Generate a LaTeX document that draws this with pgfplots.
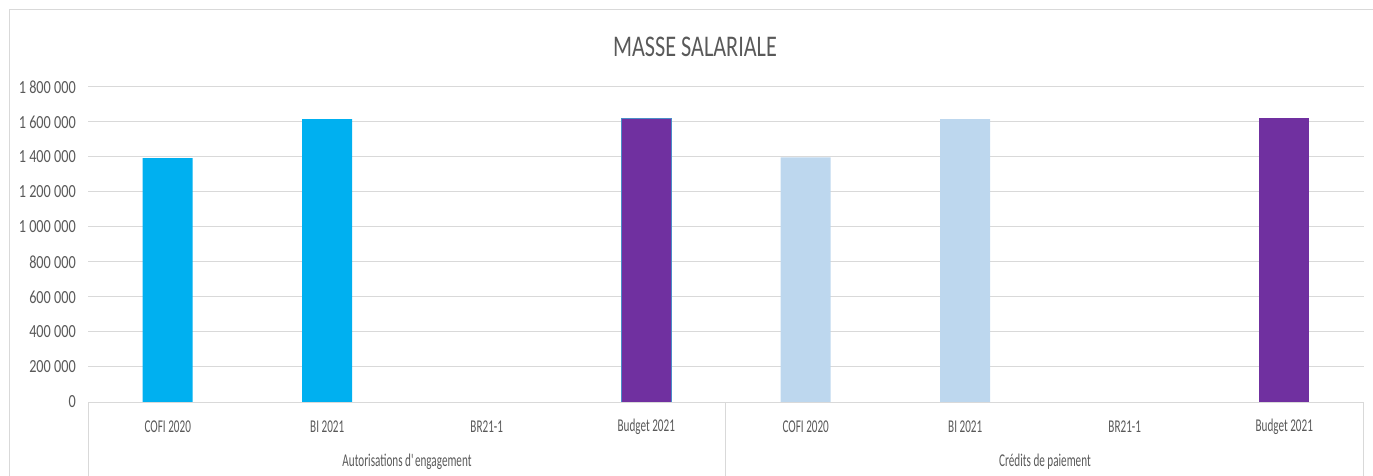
\documentclass[border=0pt]{standalone}
\usepackage{pgfplots}
\pgfplotsset{compat=1.18}
\usepackage{fontspec}
\setmainfont{Carlito}
\newfontfamily\titlef[FakeStretch=0.74]{Carlito}
\newfontfamily\yf[FakeStretch=0.77]{Carlito}
\newfontfamily\xf[FakeStretch=0.62]{Carlito}
\definecolor{txt}{HTML}{595959}
\definecolor{gridc}{HTML}{D9D9D9}
\definecolor{c1}{HTML}{00B0F0}
\definecolor{c2}{HTML}{BDD7EE}
\definecolor{c3}{HTML}{7030A0}
\definecolor{edge}{HTML}{4A8CC8}
\begin{document}
\begin{tikzpicture}
\path[use as bounding box] (0,0) rectangle (1373bp,476bp);
\draw[gridc, line width=1bp] (9bp,0) -- (9bp,466bp) -- (1373bp,466bp);
\node[txt, font=\titlef\fontsize{30bp}{34bp}\selectfont] at (695bp,429bp) {MASSE SALARIALE};
\begin{axis}[
  at={(88bp,74bp)}, anchor=south west, scale only axis,
  width=1276bp, height=315bp,
  xmin=-0.5, xmax=7.5, ymin=0, ymax=1800000,
  ytick={0,200000,400000,600000,800000,1000000,1200000,1400000,1600000,1800000},
  scaled y ticks=false,
  yticklabel style={anchor=east, inner sep=0pt, xshift=-12bp,
    font=\yf\fontsize{18.5bp}{20bp}\selectfont,
    /pgf/number format/fixed, /pgf/number format/precision=0,
    /pgf/number format/1000 sep={\ }, /pgf/number format/assume math mode=true},
  ymajorgrids, grid style={gridc, line width=1bp},
  axis line style={draw=none},
  major tick length=0pt,
  xtick={0,1,2,3,4,5,6,7},
  xticklabels={COFI 2020, BI 2021, BR21-1, Budget 2021, COFI 2020, BI 2021, BR21-1, Budget 2021},
  tick label style={txt},
  xticklabel style={anchor=center, yshift=-25bp, font=\xf\fontsize{18bp}{20bp}\selectfont},
  ybar, bar width=50bp, bar shift=0pt,
  clip=false,
]
\addplot[fill=c1, draw=none] coordinates {(0,1394000) (1,1617000) (2,0)};
\addplot[fill=c3, draw=edge, line width=0.7bp] coordinates {(3,1623000)};
\addplot[fill=c2, draw=none] coordinates {(4,1398000) (5,1617000) (6,0)};
\addplot[fill=c3, draw=none] coordinates {(7,1620000)};
\draw[gridc, line width=1bp] (axis cs:-0.5,0) -- (axis cs:7.5,0);
\draw[gridc, line width=1bp] (axis cs:-0.5,0) -- ([yshift=-74bp]axis cs:-0.5,0);
\draw[gridc, line width=1bp] (axis cs:3.5,0) -- ([yshift=-74bp]axis cs:3.5,0);
\draw[gridc, line width=1bp] (axis cs:7.5,0) -- ([yshift=-74bp]axis cs:7.5,0);
\node[txt, font=\xf\fontsize{18bp}{20bp}\selectfont] at ([yshift=-60bp]axis cs:1.5,0) {Autorisations d\textquotesingle engagement};
\node[txt, font=\xf\fontsize{18bp}{20bp}\selectfont] at ([yshift=-60bp]axis cs:5.5,0) {Crédits de paiement};
\end{axis}
\end{tikzpicture}
\end{document}
